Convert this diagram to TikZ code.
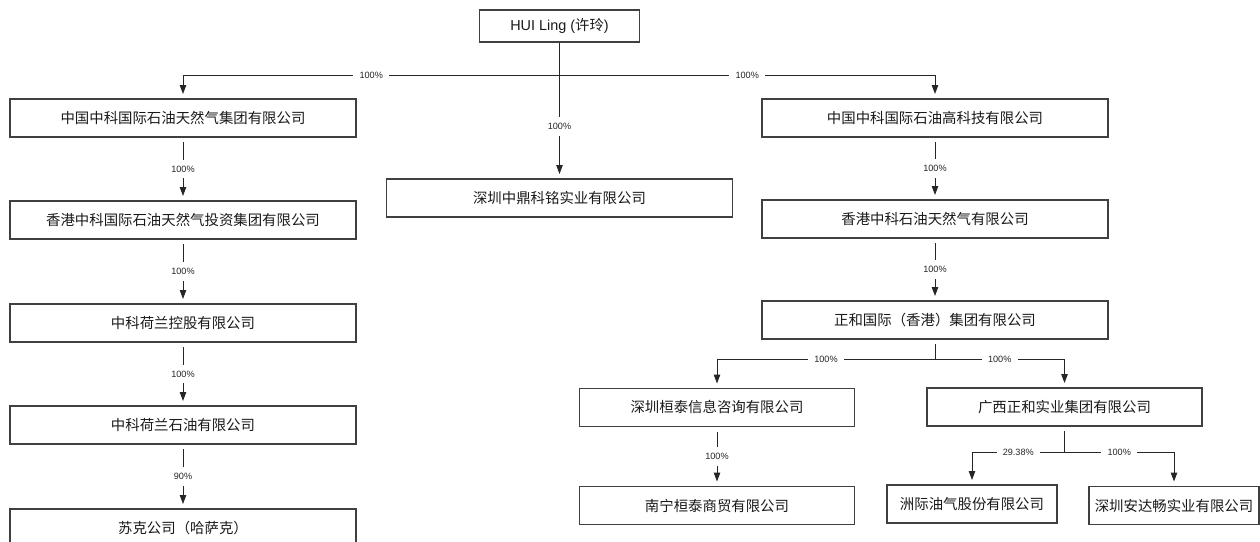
\documentclass[tikz,border=0pt]{standalone}
\usepackage{fontspec}
\setmainfont{Liberation Sans}
\newfontfamily\cjk{Noto Sans CJK SC}
\usetikzlibrary{arrows.meta}

\begin{document}
\begin{tikzpicture}[x=0.02cm, y=-0.02cm, >={Triangle[length=5pt, width=3.6pt]},
	company/.style={draw=black!75, line width=0.7pt, minimum height=0.76cm, inner sep=0pt,
		font=\cjk\fontsize{8.2}{10}\selectfont, text=black!90},
	wide/.style={company, minimum width=6.92cm},
	mid/.style={company, minimum width=5.5cm},
	narrow/.style={company, minimum width=3.4cm},
	link/.style={draw=black!85, line width=0.5pt, ->, shorten >=2.5pt},
	stub/.style={draw=black!85, line width=0.5pt, shorten <=2.5pt},
	pct/.style={fill=white, inner sep=3.5pt, font=\fontsize{5.2}{6}\selectfont, text=black!85}]
	
	% --- 0. Canvas (bottom box is cut off) ---
	\path[use as bounding box, clip] (0,0) rectangle (1260,541);
	
	% --- 1. Owner ---
	\node[company, minimum width=3.2cm, minimum height=0.64cm, font=\fontsize{8.2}{10}\selectfont]
	(hui) at (559.5,26) {HUI Ling ({\cjk 许玲})};
	
	% --- 2. Left column ---
	\foreach \name/\y/\txt in {l1/118/中国中科国际石油天然气集团有限公司,
		l2/220/香港中科国际石油天然气投资集团有限公司, l3/323/中科荷兰控股有限公司,
		l4/425/中科荷兰石油有限公司, l5/528/苏克公司（哈萨克）} {
		\node[wide] (\name) at (183,\y) {\txt};
	}
	
	% --- 3. Middle and right column ---
	\node[wide] (mid) at (559.5,198) {深圳中鼎科铭实业有限公司};
	\node[wide] (r1) at (935,118) {中国中科国际石油高科技有限公司};
	\node[wide] (r2) at (935,219) {香港中科石油天然气有限公司};
	\node[wide] (r3) at (935,320) {正和国际（香港）集团有限公司};
	
	% --- 4. Lower right branches ---
	\node[mid] (r4a) at (717,407.5) {深圳桓泰信息咨询有限公司};
	\node[mid] (r4b) at (1064.5,407) {广西正和实业集团有限公司};
	\node[mid] (r5a) at (717,505.5) {南宁桓泰商贸有限公司};
	\node[narrow] (r5b) at (972,504) {洲际油气股份有限公司};
	\node[narrow] (r5c) at (1174,505.5) {深圳安达畅实业有限公司};
	
	% --- 5. Straight holdings ---
	\draw[link] (hui) -- node[pct, pos=0.62] {100\%} (mid);
	\foreach \a/\b/\p in {l1/l2/100, l2/l3/100, l3/l4/100, l4/l5/90,
		r1/r2/100, r2/r3/100, r4a/r5a/100} {
		\draw[link, shorten <=2.5pt] (\a) -- node[pct] {\p\%} (\b);
	}
	
	% --- 6. Split holdings ---
	\coordinate (bus) at (559.5,75);
	\draw[link] (bus) -| node[pct, pos=0.25] {100\%} (l1.north);
	\draw[link] (bus) -| node[pct, pos=0.25] {100\%} (r1.north);
	
	\coordinate (r3bus) at (935,359);
	\draw[stub] (r3) -- (r3bus);
	\draw[link] (r3bus) -| node[pct, pos=0.25] {100\%} (r4a.north);
	\draw[link] (r3bus) -| node[pct, pos=0.25] {100\%} (r4b.north);
	
	\coordinate (r4bbus) at (1064.5,452);
	\draw[stub] (r4b) -- (r4bbus);
	\draw[link] (r4bbus) -| node[pct, pos=0.25] {29.38\%} (r5b.north);
	\draw[link] (r4bbus) -| node[pct, pos=0.25] {100\%} (r5c.north);
	
\end{tikzpicture}
\end{document}
